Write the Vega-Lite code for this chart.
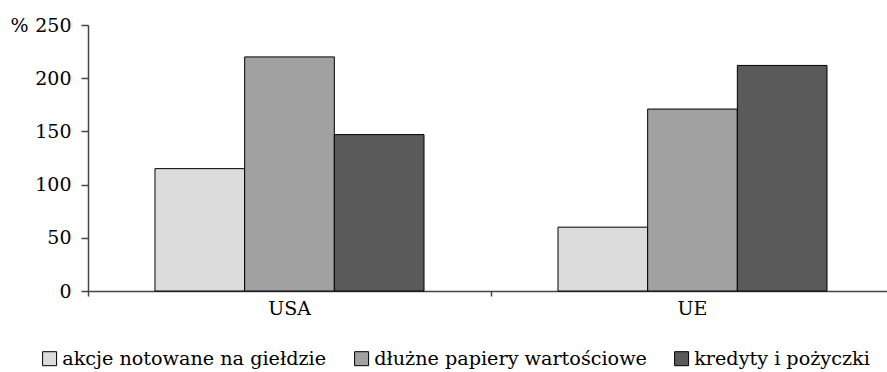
{
  "$schema": "https://vega.github.io/schema/vega-lite/v6.json",
  "autosize": {"type": "none"},
  "width": 799,
  "height": 266,
  "padding": {"left": 88, "top": 25, "right": 0, "bottom": 81},
  "background": "white",
  "config": {
    "view": {"stroke": null},
    "font": "DejaVu Serif",
    "axis": {"labelFont": "DejaVu Serif", "labelFontSize": 19, "labelColor": "black", "titleFont": "DejaVu Serif", "titleFontSize": 19, "titleColor": "black", "titleFontWeight": "normal", "domainColor": "#444", "tickColor": "#444", "domainWidth": 1.5, "tickWidth": 1.5, "grid": false},
    "legend": {"labelFont": "DejaVu Serif", "labelFontSize": 19.2, "labelColor": "black"}
  },
  "data": {
    "values": [
      {"region": "USA", "kategoria": "akcje notowane na giełdzie", "wartosc": 115},
      {"region": "USA", "kategoria": "dłużne papiery wartościowe", "wartosc": 220},
      {"region": "USA", "kategoria": "kredyty i pożyczki", "wartosc": 147},
      {"region": "UE", "kategoria": "akcje notowane na giełdzie", "wartosc": 60},
      {"region": "UE", "kategoria": "dłużne papiery wartościowe", "wartosc": 171},
      {"region": "UE", "kategoria": "kredyty i pożyczki", "wartosc": 212}
    ]
  },
  "mark": {"type": "bar", "stroke": "black", "strokeWidth": 1},
  "encoding": {
    "x": {
      "field": "region", "type": "nominal", "sort": ["USA", "UE"],
      "scale": {"paddingInner": 0, "paddingOuter": 0, "range": [0, 806]},
      "axis": {"title": null, "labelAngle": 0, "tickSize": 5, "labelPadding": 3, "bandPosition": 0}
    },
    "xOffset": {
      "field": "kategoria", "type": "nominal",
      "sort": ["akcje notowane na giełdzie", "dłużne papiery wartościowe", "kredyty i pożyczki"],
      "scale": {"paddingInner": 0, "paddingOuter": 0.747}
    },
    "y": {
      "field": "wartosc", "type": "quantitative",
      "scale": {"domain": [0, 250], "nice": false},
      "axis": {"title": "%", "titleAngle": 0, "titleAlign": "left", "titleBaseline": "middle", "titleX": -78, "titleY": 0, "values": [0, 50, 100, 150, 200, 250], "tickSize": 7, "labelPadding": 10}
    },
    "color": {
      "field": "kategoria", "type": "nominal",
      "sort": ["akcje notowane na giełdzie", "dłużne papiery wartościowe", "kredyty i pożyczki"],
      "scale": {"domain": ["akcje notowane na giełdzie", "dłużne papiery wartościowe", "kredyty i pożyczki"], "range": ["#dcdcdc", "#a1a1a1", "#5a5a5a"]},
      "legend": {"title": null, "orient": "none", "direction": "horizontal", "legendX": -48, "legendY": 324, "symbolType": "square", "symbolSize": 196, "symbolStrokeColor": "black", "symbolStrokeWidth": 1, "symbolOpacity": 1, "labelOffset": 3, "columnPadding": 25, "labelLimit": 400, "labelFont": "DejaVu Serif", "labelFontSize": 19.2}
    }
  }
}
